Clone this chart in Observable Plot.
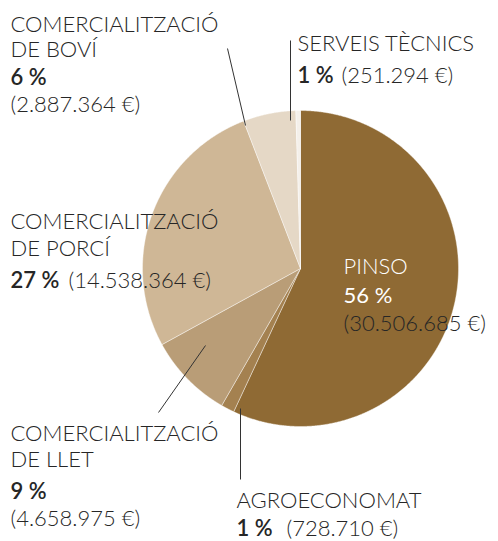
<!DOCTYPE html>
<html><head><meta charset="utf-8">
<script src="https://cdn.jsdelivr.net/npm/d3@7"></script>
<script src="https://cdn.jsdelivr.net/npm/@observablehq/plot@0.6"></script>
<style>body{margin:0;background:#fff}svg{display:block}</style>
</head><body>
<div id="chart"></div>
<script>
// Data (clockwise from 12 o'clock)
const categories = ["PINSO","AGROECONOMAT","COMERCIALITZACIÓ DE LLET","COMERCIALITZACIÓ DE PORCÍ","COMERCIALITZACIÓ DE BOVÍ","SERVEIS TÈCNICS"];
const values = [30506685, 728710, 4658975, 14538364, 2887364, 251294];
const percents = ["56 %","1 %","9 %","27 %","6 %","1 %"];
const amounts = ["(30.506.685 €)","(728.710 €)","(4.658.975 €)","(14.538.364 €)","(2.887.364 €)","(251.294 €)"];
const colors = ["#8f6a34","#a48150","#b99d77","#cfb796","#e5d8c6","#f4f0ea"];

// Layout
const W = 498, H = 541, cx = 300, cy = 268, R = 158;
const arcs = d3.pie().sort(null).startAngle(0).endAngle(2*Math.PI)(values);
const poly = [];
arcs.forEach((a, i) => {
  const n = Math.max(2, Math.ceil((a.endAngle - a.startAngle) / 0.005));
  poly.push({k: categories[i], x: cx, y: cy});
  for (let j = 0; j <= n; j++) {
    const t = a.startAngle + (a.endAngle - a.startAngle) * j / n;
    poly.push({k: categories[i], x: cx + R*Math.sin(t), y: cy - R*Math.cos(t)});
  }
  poly.push({k: categories[i], x: cx, y: cy});
});

const ink = "#262626";
// label lines: [text, x, y(baseline), weight, color]
const labelLines = [
  ["COMERCIALITZACIÓ", 10, 31, 300, ink],
  ["DE BOVÍ", 10, 56, 300, ink],
  [percents[4], 10, 84, 600, ink],
  [amounts[4], 10, 111, 300, ink],
  ["SERVEIS TÈCNICS", 297, 50, 300, ink],
  [percents[5], 297, 82, 600, ink],
  [amounts[5], 341, 82, 300, ink],
  ["COMERCIALITZACIÓ", 10, 228, 300, ink],
  ["DE PORCÍ", 10, 255, 300, ink],
  [percents[3], 10, 287, 600, ink],
  [amounts[3], 68, 287, 300, ink],
  ["COMERCIALITZACIÓ", 10, 440, 300, ink],
  ["DE LLET", 10, 466, 300, ink],
  [percents[2], 10, 498, 600, ink],
  [amounts[2], 10, 525, 300, ink],
  ["AGROECONOMAT", 236, 507, 300, ink],
  [percents[1], 236, 535, 600, ink],
  [amounts[1], 286, 535, 300, ink],
  [categories[0], 343, 273, 300, "#fff"],
  [percents[0], 343, 302, 400, "#fff"],
  [amounts[0], 343, 330, 300, ink]
].map(([t,x,y,w,c]) => ({t,x,y,w,c}));

const leaders = [
  {x1:227,y1:48,x2:245,y2:125},
  {x1:290,y1:40,x2:290,y2:120},
  {x1:205,y1:345,x2:158,y2:412},
  {x1:240,y1:408,x2:240,y2:479}
];

const font = "Lato, 'Open Sans', sans-serif";
const textMarks = [300,400,600].map(w => Plot.text(labelLines.filter(d => d.w === w), {
  x: "x", y: "y", text: "t", fill: "c", textAnchor: "start", lineAnchor: "bottom",
  fontSize: 22, fontWeight: w, fontFamily: font
}));

const chart = Plot.plot({
  width: W, height: H, margin: 0,
  x: {domain: [0, W], range: [0, W], axis: null},
  y: {domain: [0, H], range: [0, H], axis: null},
  color: {domain: categories, range: colors},
  style: {background: "#fff", fontFamily: font},
  marks: [
    Plot.line(poly, {x: "x", y: "y", z: "k", fill: "k", stroke: "#fff", strokeWidth: 0.6, strokeOpacity: 0.7, curve: "linear"}),
    Plot.link(leaders, {x1: "x1", y1: "y1", x2: "x2", y2: "y2", stroke: "#333", strokeWidth: 1}),
    ...textMarks
  ]
});
document.getElementById("chart").appendChild(chart);
</script>
</body></html>
